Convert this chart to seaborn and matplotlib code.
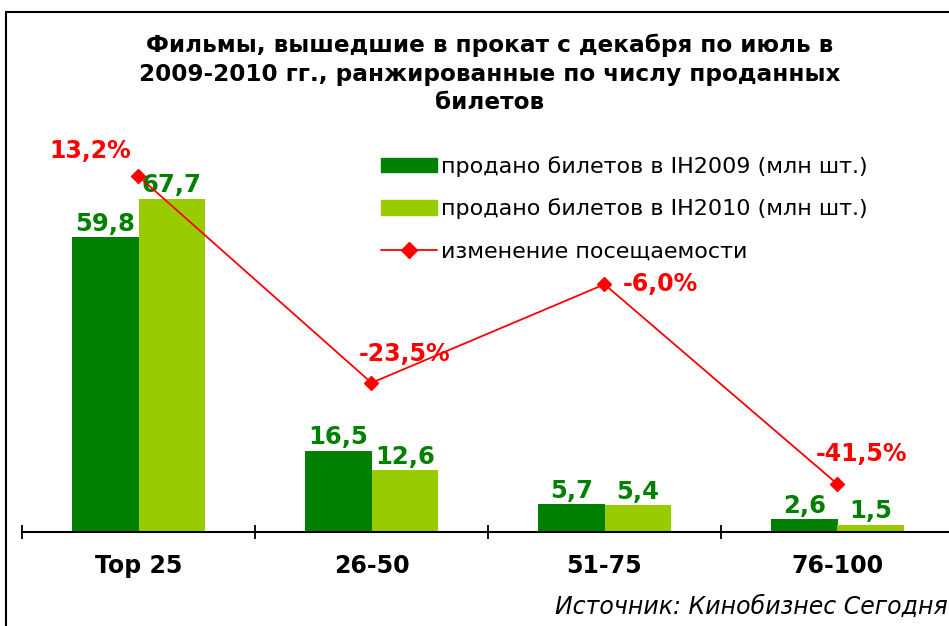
import numpy as np
import pandas as pd
import matplotlib
matplotlib.use("Agg")
import matplotlib.pyplot as plt
import seaborn as sns
from matplotlib.lines import Line2D
from matplotlib.patches import Patch, Rectangle

categories = ["Top 25", "26-50", "51-75", "76-100"]
tickets_2009 = [59.8, 16.5, 5.7, 2.6]
tickets_2010 = [67.7, 12.6, 5.4, 1.5]
change_pct = [13.2, -23.5, -6.0, -41.5]
series_names = ["продано билетов в IH2009 (млн шт.)",
                "продано билетов в IH2010 (млн шт.)"]
line_name = "изменение посещаемости"
title = "Фильмы, вышедшие в прокат с декабря по июль в\n2009-2010 гг., ранжированные по числу проданных\nбилетов"
source = "Источник: Кинобизнес Сегодня"

DARK = "#008000"
LIGHT = "#99CC00"
RED = "#FF0000"

sns.set_theme(style="white")
plt.rcParams["font.family"] = ["DejaVu Sans"]
plt.rcParams["text.color"] = "black"
plt.rcParams["xtick.color"] = "black"
plt.rcParams["xtick.labelcolor"] = "black"

df = pd.DataFrame({
    "cat": categories * 2,
    "val": tickets_2009 + tickets_2010,
    "series": [series_names[0]] * 4 + [series_names[1]] * 4,
})

W, H = 949, 626
fig = plt.figure(figsize=(W / 100, H / 100), dpi=100)
ax = fig.add_axes([22 / W, (H - 532) / H, 932 / W, 394 / H])

sns.barplot(data=df, x="cat", y="val", hue="series", order=categories,
            hue_order=series_names, palette=[DARK, LIGHT], width=0.57,
            saturation=1, legend=False, ax=ax, errorbar=None,
            edgecolor="none", linewidth=0)
ax.set_ylim(0, 80)
ax.set_xlim(-0.5, 3.5)

# value labels
for cont, vals in zip(ax.containers, [tickets_2009, tickets_2010]):
    labels = [f"{v:.1f}".replace(".", ",") for v in vals]
    ax.bar_label(cont, labels=labels, padding=1, color=DARK,
                 fontsize=17.5, fontweight="bold")

ax2 = ax.twinx()
sns.pointplot(x=categories, y=change_pct, order=categories, color=RED,
              markers="D", markersize=7, linewidth=1.3, ax=ax2, errorbar=None)
ax2.set_ylim(-50, 20)
ax2.set_xlim(-0.5, 3.5)

offsets = [(-35, 18), (24, 21), (40, 0), (17, 22)]
for i, (v, off) in enumerate(zip(change_pct, offsets)):
    ax2.annotate(f"{v:.1f}%".replace(".", ","), (i, v), xytext=off,
                 textcoords="offset points", ha="center", va="center",
                 color=RED, fontsize=17, fontweight="bold")

for a in (ax, ax2):
    for s in ("top", "right", "left"):
        a.spines[s].set_visible(False)
    a.set_yticks([])
    a.set_ylabel("")
    a.set_xlabel("")
ax2.spines["bottom"].set_visible(False)
ax.spines["bottom"].set_color("black")
ax.spines["bottom"].set_linewidth(1.5)

ax.set_xticks([-0.5, 0.5, 1.5, 2.5, 3.5])
ax.set_xticklabels([])
ax.set_xticks(range(len(categories)), minor=True)
ax.set_xticklabels(categories, minor=True, fontsize=17, fontweight="bold")
ax.tick_params(axis="x", which="major", direction="inout", length=10,
               width=1.3, color="black", bottom=True)
ax.tick_params(axis="x", which="minor", length=0, pad=16)
ax2.tick_params(axis="x", which="both", length=0, labelbottom=False)

handles = [Patch(color=DARK), Patch(color=LIGHT),
           Line2D([0], [0], color=RED, marker="D", markersize=8, lw=1.3)]
fig.legend(handles, series_names + [line_name],
           loc="upper left", bbox_to_anchor=(361 / W, 1 - 136 / H),
           frameon=False, fontsize=16, handlelength=2.5, handleheight=0.63,
           labelspacing=0.98, handletextpad=0.2)

fig.text(490 / W, 1 - 34 / H, title, ha="center", va="top", fontsize=16.7,
         fontweight="bold", linespacing=1.3)
fig.text(948 / W, 1 - 607 / H, source, ha="right", va="center",
         fontsize=17, style="italic")

fig.patches.append(Rectangle((6 / W, -0.1), 1.2, 1.1 - 12 / H,
                             transform=fig.transFigure, fill=False,
                             edgecolor="black", linewidth=1.5))

fig.savefig("out.png", dpi=100)
